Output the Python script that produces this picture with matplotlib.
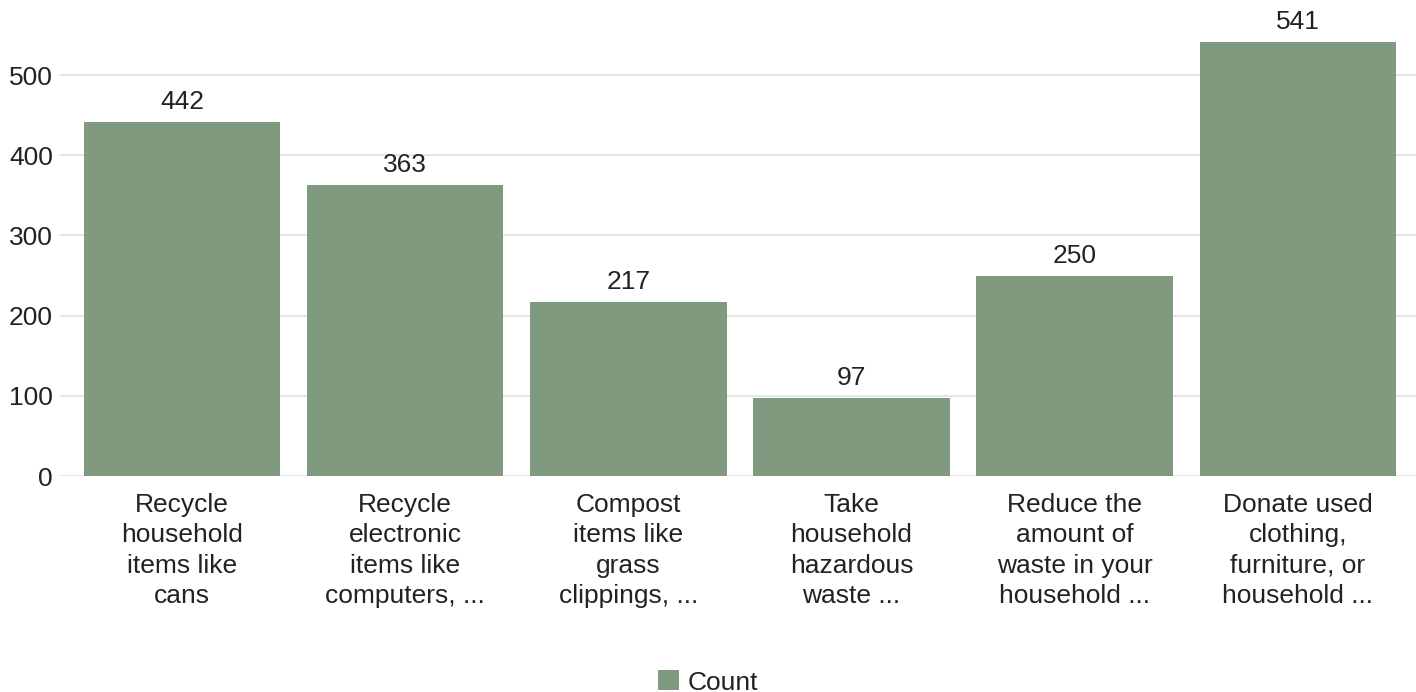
import matplotlib.pyplot as plt

plt.rcParams['font.family'] = ['Liberation Sans', 'DejaVu Sans']

categories = [
    "Recycle\nhousehold\nitems like\ncans",
    "Recycle\nelectronic\nitems like\ncomputers, ...",
    "Compost\nitems like\ngrass\nclippings, ...",
    "Take\nhousehold\nhazardous\nwaste ...",
    "Reduce the\namount of\nwaste in your\nhousehold ...",
    "Donate used\nclothing,\nfurniture, or\nhousehold ...",
]
counts = [442, 363, 217, 97, 250, 541]
yticks = [0, 100, 200, 300, 400, 500]

bar_color = "#7f9a7e"
text_color = "#222222"

fig = plt.figure(figsize=(14.16, 6.92), dpi=100)
ax = fig.add_axes([60 / 1416, 216 / 692, 1356 / 1416, 473 / 692])

x = range(len(categories))
bars = ax.bar(x, counts, width=0.88, color=bar_color, label="Count", zorder=2)

for xi, v in zip(x, counts):
    ax.text(xi, v + 10, str(v), ha="center", va="bottom", fontsize=19, color=text_color)

ax.set_xlim(-0.547, 5.53)
ax.set_ylim(0, 590)
ax.set_yticks(yticks)
ax.set_xticks(list(x))
ax.set_xticklabels(categories, fontsize=19, color=text_color, linespacing=1.34)
ax.tick_params(axis="y", labelsize=19, labelcolor=text_color, length=0, pad=5)
ax.tick_params(axis="x", length=0, pad=12)
ax.grid(axis="y", color="#e0e0e0", linewidth=1.2, zorder=0)
for s in ax.spines.values():
    s.set_visible(False)

fig.legend(handles=[bars], labels=["Count"], loc="lower center", bbox_to_anchor=(0.5, -0.038),
           frameon=False, fontsize=19, handlelength=0.8, handleheight=0.8, handletextpad=0.3,
           labelcolor=text_color)

fig.savefig("out.png", dpi=100, facecolor="white")
